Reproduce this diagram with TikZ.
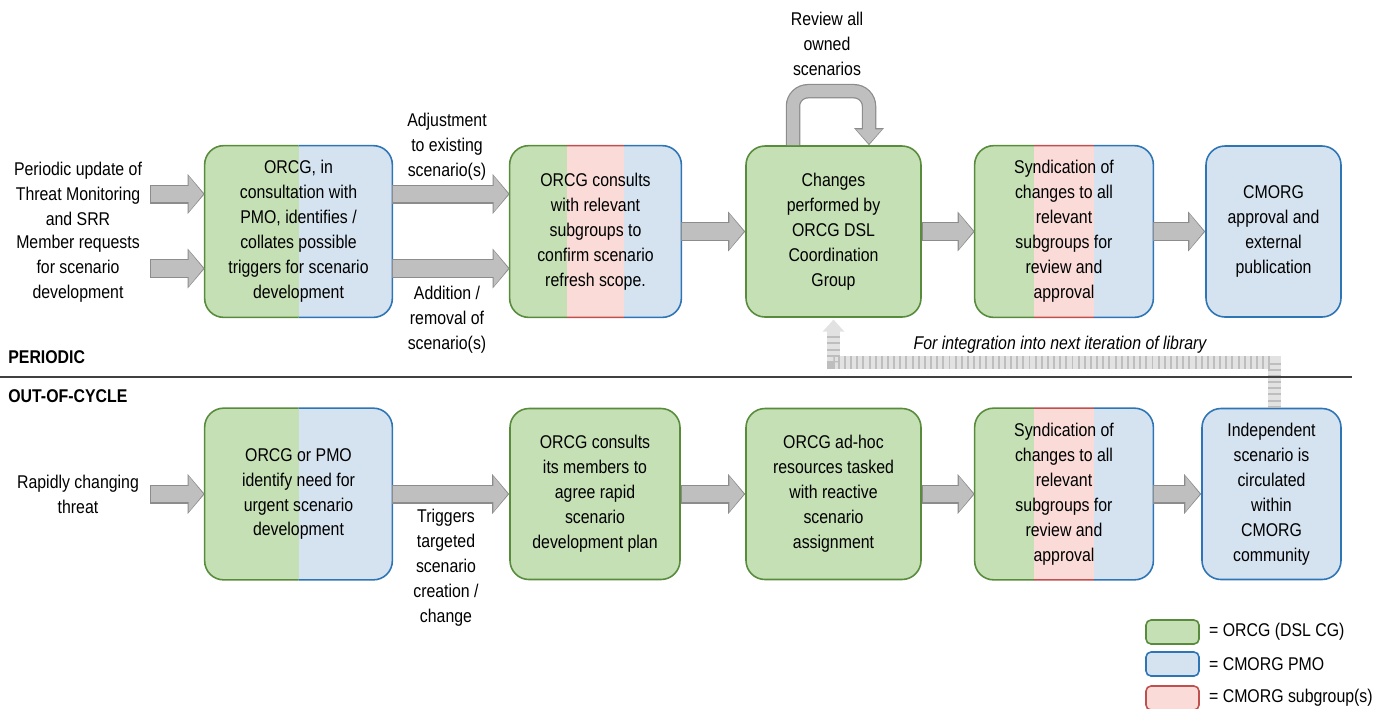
\documentclass[tikz,border=0pt]{standalone}
\usepackage{fontspec}
\setmainfont{Liberation Sans}[FakeStretch=0.86]
\usetikzlibrary{arrows.meta,positioning,calc}

\definecolor{orcgfill}{RGB}{197,224,180}
\definecolor{orcgline}{RGB}{88,140,60}
\definecolor{pmofill}{RGB}{213,226,240}
\definecolor{pmoline}{RGB}{46,117,182}
\definecolor{subfill}{RGB}{250,219,216}
\definecolor{subline}{RGB}{192,80,77}
\definecolor{arrowgray}{RGB}{191,191,191}
\definecolor{arrowline}{RGB}{140,140,140}
\definecolor{hatchgray}{RGB}{226,226,226}
\definecolor{hatchstripe}{RGB}{190,190,190}

\begin{document}
\begin{tikzpicture}[
 font=\fontsize{10.5pt}{14.2pt}\selectfont,
 box/.style={rounded corners=0.38cm,align=center,minimum height=3.42cm,inner sep=0pt},
 orcg/.style={box,draw=orcgline,fill=orcgfill,line width=0.9pt},
 pmo/.style={box,draw=pmoline,fill=pmofill,line width=0.9pt},
 duo/.style={box,path picture={
   \fill[orcgfill,sharp corners] (path picture bounding box.south west) rectangle (path picture bounding box.north);
   \fill[pmofill,sharp corners] (path picture bounding box.south) rectangle (path picture bounding box.north east);}},
 trio/.style={box,path picture={
   \fill[orcgfill,sharp corners] (path picture bounding box.south west) rectangle ($(path picture bounding box.north west)!1/3!(path picture bounding box.north east)$);
   \fill[subfill,sharp corners] ($(path picture bounding box.south west)!1/3!(path picture bounding box.south east)$) rectangle ($(path picture bounding box.north west)!2/3!(path picture bounding box.north east)$);
   \fill[pmofill,sharp corners] ($(path picture bounding box.south west)!2/3!(path picture bounding box.south east)$) rectangle (path picture bounding box.north east);}},
 edge line/.style={line width=0.9pt,rounded corners=0.38cm},
 lbl/.style={align=center,inner sep=0pt},
 inlbl/.style={align=flush center,inner sep=0pt,text width=2.88cm},
 key/.style={minimum width=1.06cm,minimum height=0.48cm,rounded corners=0.1cm,line width=0.9pt,inner sep=0pt},
 fat/.style={draw=arrowgray,line width=0.33cm,shorten >=0.8pt,shorten <=0.6pt,-{Triangle[width=0.70cm,length=0.29cm]},
   preaction={draw=arrowline,line width=0.38cm,shorten >=0pt,shorten <=0pt,-{Triangle[width=0.78cm,length=0.34cm]}}},
 loopfat/.style={draw=arrowgray,line width=0.24cm,rounded corners=0.3cm,shorten >=0.8pt,-{Triangle[width=0.50cm,length=0.29cm]},
   preaction={draw=arrowline,line width=0.29cm,shorten >=0pt,-{Triangle[width=0.57cm,length=0.34cm]}}},
 hatch/.style={draw=hatchgray,line width=0.26cm,shorten >=1pt,-{Triangle[width=0.42cm,length=0.24cm]},
   postaction={draw=hatchstripe,line width=0.26cm,dash pattern=on 1.1pt off 2.4pt,shorten >=0.3cm,-}}
]
\useasboundingbox (0,0) rectangle (27.62,-14.16);

% periodic row
\node[inlbl] (periodic) at (1.56,-3.88) {Periodic update of\\Threat Monitoring\\and SRR};
\node[inlbl] (member) at (1.56,-5.37) {Member requests\\for scenario\\development};
\node[duo,minimum width=3.74cm] (collate) at (5.97,-4.63) {ORCG, in\\consultation with\\PMO, identifies /\\collates possible\\triggers for scenario\\development};
\node[trio,minimum width=3.42cm] (consult) at (11.91,-4.63) {ORCG consults\\with relevant\\subgroups to\\confirm scenario\\refresh scope.};
\node[orcg,minimum width=3.5cm] (changes) at (16.67,-4.63) {Changes\\performed by\\ORCG DSL\\Coordination\\Group};
\node[trio,minimum width=3.56cm] (syndicate) at (21.28,-4.63) {Syndication of\\changes to all\\relevant\\subgroups for\\review and\\approval};
\node[pmo,minimum width=2.7cm] (publish) at (25.47,-4.63) {CMORG\\approval and\\external\\publication};
\node[lbl] (adjust) at (8.94,-2.94) {Adjustment\\to existing\\scenario(s)};
\node[lbl] (addition) at (8.94,-6.40) {Addition /\\removal of\\scenario(s)};
\node[lbl] (review) at (16.54,-0.88) {Review all\\owned\\scenarios};

% out-of-cycle row
\node[inlbl] (rapid) at (1.56,-9.88) {Rapidly changing\\threat};
\node[duo,minimum width=3.74cm] (identify) at (5.97,-9.88) {ORCG or PMO\\identify need for\\urgent scenario\\development};
\node[orcg,minimum width=3.4cm] (plan) at (11.9,-9.88) {ORCG consults\\its members to\\agree rapid\\scenario\\development plan};
\node[orcg,minimum width=3.5cm] (adhoc) at (16.67,-9.88) {ORCG ad-hoc\\resources tasked\\with reactive\\scenario\\assignment};
\node[trio,minimum width=3.56cm] (syndicate2) at (21.28,-9.88) {Syndication of\\changes to all\\relevant\\subgroups for\\review and\\approval};
\node[pmo,minimum width=2.78cm] (circulate) at (25.43,-9.88) {Independent\\scenario is\\circulated\\within\\CMORG\\community};
\node[lbl] (triggers) at (8.92,-11.36) {Triggers\\targeted\\scenario\\creation /\\change};

% split borders
\foreach \n in {collate,identify}{
  \begin{scope}
    \clip ([shift={(-3pt,-3pt)}]\n.south west) rectangle ([yshift=3pt]\n.north);
    \draw[orcgline,edge line] (\n.south west) rectangle (\n.north east);
  \end{scope}
  \begin{scope}
    \clip ([yshift=-3pt]\n.south) rectangle ([shift={(3pt,3pt)}]\n.north east);
    \draw[pmoline,edge line] (\n.south west) rectangle (\n.north east);
  \end{scope}
}
\foreach \n in {consult,syndicate,syndicate2}{
  \coordinate (one) at ($(\n.north west)!1/3!(\n.north east)$);
  \coordinate (two) at ($(\n.south west)!2/3!(\n.south east)$);
  \begin{scope}
    \clip ([shift={(-3pt,-3pt)}]\n.south west) rectangle ([yshift=3pt]one);
    \draw[orcgline,edge line] (\n.south west) rectangle (\n.north east);
  \end{scope}
  \begin{scope}
    \clip ([yshift=-3pt]\n.south west -| one) rectangle ([yshift=3pt]\n.north west -| two);
    \draw[subline,edge line] (\n.south west) rectangle (\n.north east);
  \end{scope}
  \begin{scope}
    \clip ([yshift=-3pt]two) rectangle ([shift={(3pt,3pt)}]\n.north east);
    \draw[pmoline,edge line] (\n.south west) rectangle (\n.north east);
  \end{scope}
}

% block arrows
\draw[fat] (periodic.east) -- (periodic.east -| collate.west);
\draw[fat] (member.east) -- (member.east -| collate.west);
\draw[fat] (collate.east |- periodic.east) -- (consult.west |- periodic.east);
\draw[fat] (collate.east |- member.east) -- (consult.west |- member.east);
\draw[fat] (consult) -- (changes);
\draw[fat] (changes) -- (syndicate);
\draw[fat] (syndicate) -- (publish);
\draw[loopfat] ([xshift=-0.81cm]changes.north) -- ++(0,1.08) -| ([xshift=0.71cm]changes.north);
\draw[fat] (rapid.east) -- (rapid.east -| identify.west);
\draw[fat] (identify) -- (plan);
\draw[fat] (plan) -- (adhoc);
\draw[fat] (adhoc) -- (syndicate2);
\draw[fat] (syndicate2) -- (circulate);
\draw[hatch] ([xshift=0.06cm]circulate.north) -- ++(0,0.9) -| (changes.south);
\node[lbl,font=\fontsize{10.5pt}{14.2pt}\selectfont\itshape] (integration) at (21.2,-6.9) {For integration into next iteration of library};

% section divider
\coordinate (sepL) at (0,-7.54);
\coordinate (sepR) at (27.04,-7.54);
\draw[black!75,line width=0.8pt] (sepL) -- (sepR);
\node[lbl,anchor=west,font=\fontsize{10.5pt}{14.2pt}\selectfont\bfseries] (periodichead) at (0.16,-7.14) {PERIODIC};
\node[lbl,anchor=west,font=\fontsize{10.5pt}{14.2pt}\selectfont\bfseries] (cyclehead) at (0.16,-7.92) {OUT-OF-CYCLE};

% legend
\node[key,draw=orcgline,fill=orcgfill] (key1) at (23.45,-12.64) {};
\node[key,draw=pmoline,fill=pmofill] (key2) at (23.45,-13.28) {};
\node[key,draw=subline,fill=subfill] (key3) at (23.45,-13.96) {};
\node[lbl,right=0.18cm of key1] (keytext1) {= ORCG (DSL CG)};
\node[lbl,right=0.18cm of key2] (keytext2) {= CMORG PMO};
\node[lbl,right=0.18cm of key3] (keytext3) {= CMORG subgroup(s)};
\end{tikzpicture}
\end{document}
